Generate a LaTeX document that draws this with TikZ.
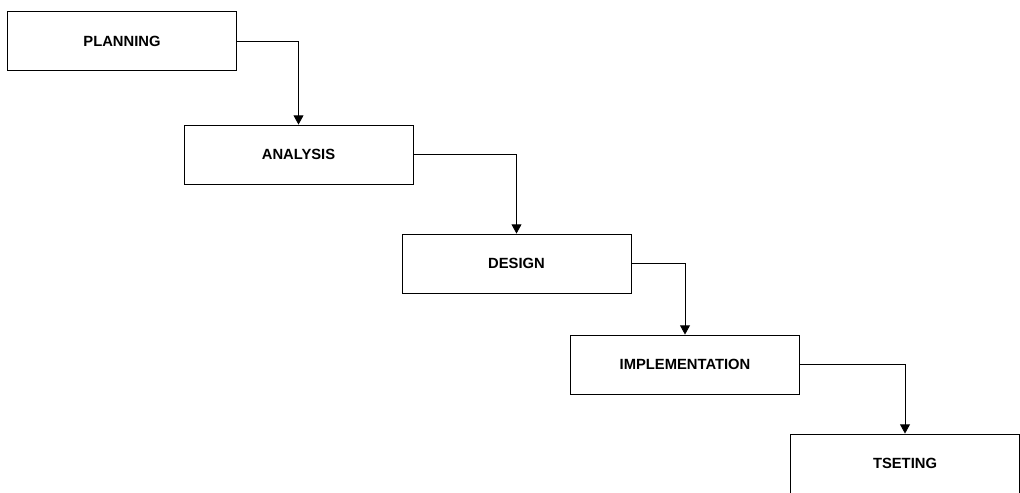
\documentclass[tikz,border=0pt]{standalone}
\usepackage{fontspec}
\setmainfont{Liberation Sans}
\usepackage{tikz}
\usetikzlibrary{arrows.meta}

\begin{document}
\begin{tikzpicture}[x=0.025cm, y=-0.025cm,
  every node/.style={rectangle, draw, line width=0.6pt, font=\fontsize{10.5}{13}\selectfont\bfseries,
    minimum width=5.725cm, minimum height=1.475cm, inner sep=0pt},
  flow/.style={-{Triangle[length=6.5pt,width=7pt]}, line width=0.6pt}]
\useasboundingbox (0,0) rectangle (1020,493);
% Fases em cascata
\node (plan)   at (122,41)     {PLANNING};
\node (anal)   at (298.5,154.5) {ANALYSIS};
\node (desg)   at (516.5,263.5) {DESIGN};
\node (impl)   at (685,364.5)  {IMPLEMENTATION};
\node (test)   at (905,463.5)  {TSETING};
% Setas entre fases
\draw[flow] (plan.east) -| (anal.north);
\draw[flow] (anal.east) -| (desg.north);
\draw[flow] (desg.east) -| (impl.north);
\draw[flow] (impl.east) -| (test.north);
\end{tikzpicture}
\end{document}
